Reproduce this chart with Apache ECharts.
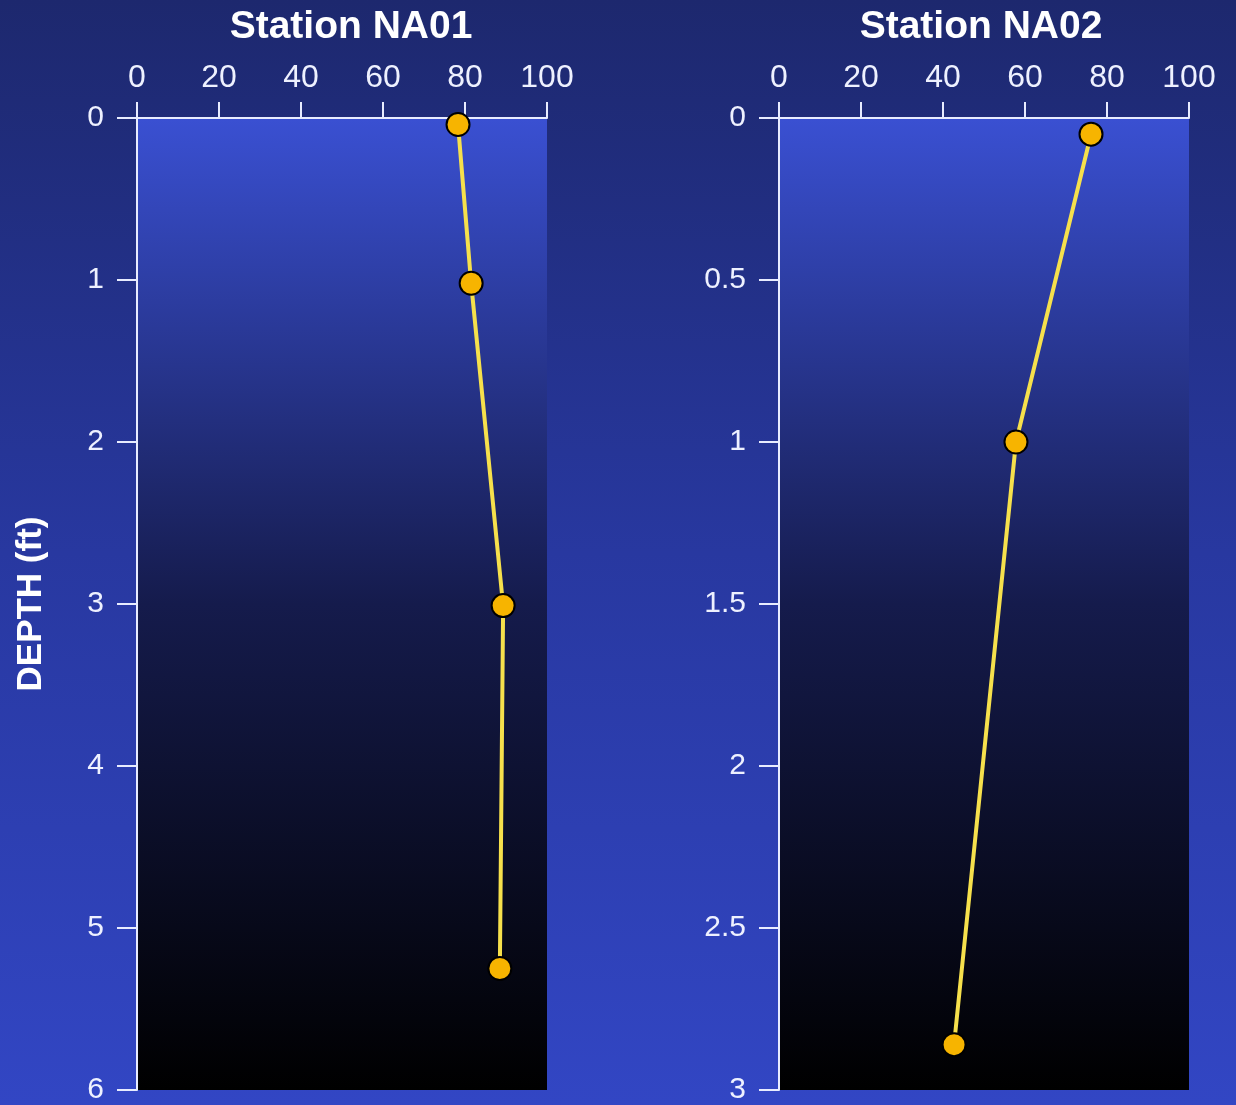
<!DOCTYPE html>
<html><head><meta charset="utf-8">
<script src="https://cdn.jsdelivr.net/npm/echarts@6/dist/echarts.min.js"></script>
<style>html,body{margin:0;padding:0;}#c{width:1236px;height:1105px;}</style>
</head><body><div id="c"></div>
<script>
const titles = ['Station NA01', 'Station NA02'];
const xTicks = [0, 20, 40, 60, 80, 100];
const na01Value = [78.3, 81.5, 89.3, 88.5];
const na01Depth = [0.04, 1.02, 3.01, 5.25];
const na02Value = [76.1, 57.8, 42.7];
const na02Depth = [0.05, 1.0, 2.86];
const yAxisName = 'DEPTH (ft)';

const FONT = '"Liberation Sans", Arial, Helvetica, sans-serif';
const chart = echarts.init(document.getElementById('c'), null, {renderer: 'canvas'});
const plotBg = new echarts.graphic.LinearGradient(0, 0, 0, 1, [
  {offset: 0, color: '#3a50d2'},
  {offset: 0.5, color: '#151b4c'},
  {offset: 1, color: '#000000'}
]);
function xAx(i) {
  return {
    type: 'value', gridIndex: i, position: 'top', min: 0, max: 100, interval: 20,
    axisLine: {show: true, lineStyle: {color: '#e8ecff', width: 2}},
    axisTick: {show: true, inside: false, length: 16, lineStyle: {color: '#e8ecff', width: 2}},
    axisLabel: {color: '#eef1ff', fontSize: 32, fontFamily: FONT, margin: 24},
    splitLine: {show: false}
  };
}
function yAx(i, max, interval, name) {
  return {
    type: 'value', gridIndex: i, inverse: true, min: 0, max: max, interval: interval,
    name: name || '', nameLocation: 'middle', nameGap: 88, nameRotate: 90,
    nameTextStyle: {color: '#ffffff', fontSize: 35, fontWeight: 'bold', fontFamily: FONT},
    axisLine: {show: true, lineStyle: {color: '#e8ecff', width: 2}},
    axisTick: {show: true, length: 20, lineStyle: {color: '#e8ecff', width: 2}},
    axisLabel: {color: '#eef1ff', fontSize: 30, fontFamily: FONT, margin: 33},
    splitLine: {show: false}
  };
}
function series(i, vals, depths) {
  return {
    type: 'line', xAxisIndex: i, yAxisIndex: i,
    data: vals.map((v, k) => [v, depths[k]]),
    symbol: 'circle', symbolSize: 23,
    lineStyle: {color: '#f6e04c', width: 4},
    itemStyle: {color: '#f7b400', borderColor: '#000000', borderWidth: 2},
    z: 5, animation: false
  };
}
chart.setOption({
  backgroundColor: new echarts.graphic.LinearGradient(0, 0, 0, 1, [
    {offset: 0, color: '#1d286e'},
    {offset: 0.5, color: '#2838a0'},
    {offset: 1, color: '#3246c4'}
  ]),
  animation: false,
  title: [
    {text: titles[0], left: 346, top: 3, textAlign: 'center',
     textStyle: {color: '#ffffff', fontSize: 39, fontWeight: 'bold', fontFamily: FONT}},
    {text: titles[1], left: 976, top: 3, textAlign: 'center',
     textStyle: {color: '#ffffff', fontSize: 39, fontWeight: 'bold', fontFamily: FONT}}
  ],
  grid: [
    {left: 137, right: 689, top: 118, bottom: 15, show: true, borderWidth: 0, backgroundColor: plotBg},
    {left: 779, right: 47, top: 118, bottom: 15, show: true, borderWidth: 0, backgroundColor: plotBg}
  ],
  xAxis: [xAx(0), xAx(1)],
  yAxis: [yAx(0, 6, 1, yAxisName), yAx(1, 3, 0.5)],
  series: [series(0, na01Value, na01Depth), series(1, na02Value, na02Depth)]
});
</script></body></html>
